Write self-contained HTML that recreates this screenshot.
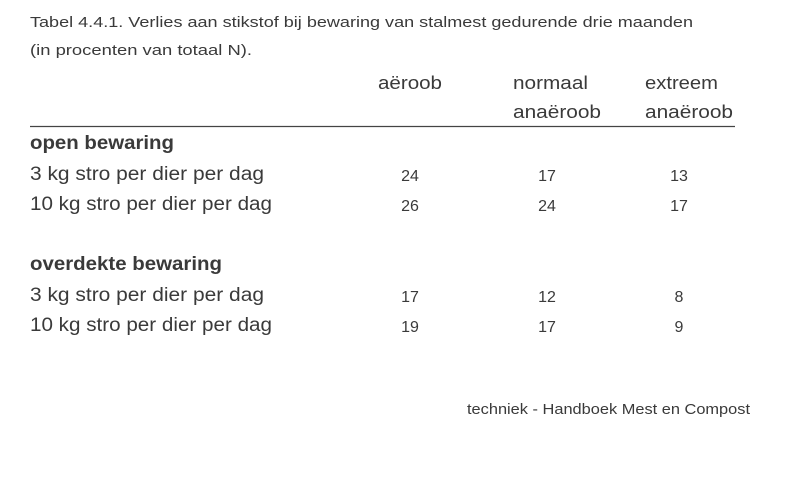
<!DOCTYPE html>
<html><head><meta charset="utf-8"><style>
body{margin:0;background:#fff;}
svg{display:block;font-family:"Liberation Sans",sans-serif;fill:#3a3a3a;}
</style></head><body>
<svg id="s" width="790" height="480" viewBox="0 0 790 480">
<text x="30" y="27" font-size="15" textLength="663" lengthAdjust="spacingAndGlyphs">Tabel 4.4.1. Verlies aan stikstof bij bewaring van stalmest gedurende drie maanden</text>
<text x="30" y="55" font-size="15" textLength="222" lengthAdjust="spacingAndGlyphs">(in procenten van totaal N).</text>
<text x="378" y="89" font-size="18" textLength="64" lengthAdjust="spacingAndGlyphs">aëroob</text>
<text x="513" y="89" font-size="18" textLength="75" lengthAdjust="spacingAndGlyphs">normaal</text>
<text x="513" y="118" font-size="18" textLength="88" lengthAdjust="spacingAndGlyphs">anaëroob</text>
<text x="645" y="89" font-size="18" textLength="73" lengthAdjust="spacingAndGlyphs">extreem</text>
<text x="645" y="118" font-size="18" textLength="88" lengthAdjust="spacingAndGlyphs">anaëroob</text>
<line x1="30" y1="126.5" x2="735" y2="126.5" stroke="#444" stroke-width="1.3"/>
<text x="467" y="414" font-size="14.5" textLength="283" lengthAdjust="spacingAndGlyphs">techniek - Handboek Mest en Compost</text>
</svg>
<script>
const groups = ["open bewaring", "overdekte bewaring"];
const rowLabels = ["3 kg stro per dier per dag", "10 kg stro per dier per dag"];
const aeroob = [24, 26, 17, 19];
const normaal = [17, 24, 12, 17];
const extreem = [13, 17, 8, 9];
const svg = document.getElementById('s');
const NS = 'http://www.w3.org/2000/svg';
function t(x, y, s, size, opts) {
  const e = document.createElementNS(NS, 'text');
  e.setAttribute('x', x); e.setAttribute('y', y); e.setAttribute('font-size', size);
  if (opts.bold) e.setAttribute('font-weight', 'bold');
  if (opts.anchor) e.setAttribute('text-anchor', opts.anchor);
  if (opts.len) { e.setAttribute('textLength', opts.len); e.setAttribute('lengthAdjust', 'spacingAndGlyphs'); }
  e.textContent = s; svg.appendChild(e); return e;
}
const cols = [aeroob, normaal, extreem];
const colX = [410, 547, 679];
groups.forEach((g, gi) => {
  const base = 149 + gi * 121;
  const h = t(30, base, g, 19, { bold: true, len: gi ? 192 : 144 });
  
  
  rowLabels.forEach((r, ri) => {
    const y = base + 31 + ri * 30;
    const l = t(30, y, r, 19, { len: ri ? 242 : 234 });
    
    
    cols.forEach((arr, ci) => {
      const v = t(colX[ci], y + 1, String(arr[gi * 2 + ri]), 16, { anchor: 'middle' });
      
      
    });
  });
});
</script>
</body></html>
